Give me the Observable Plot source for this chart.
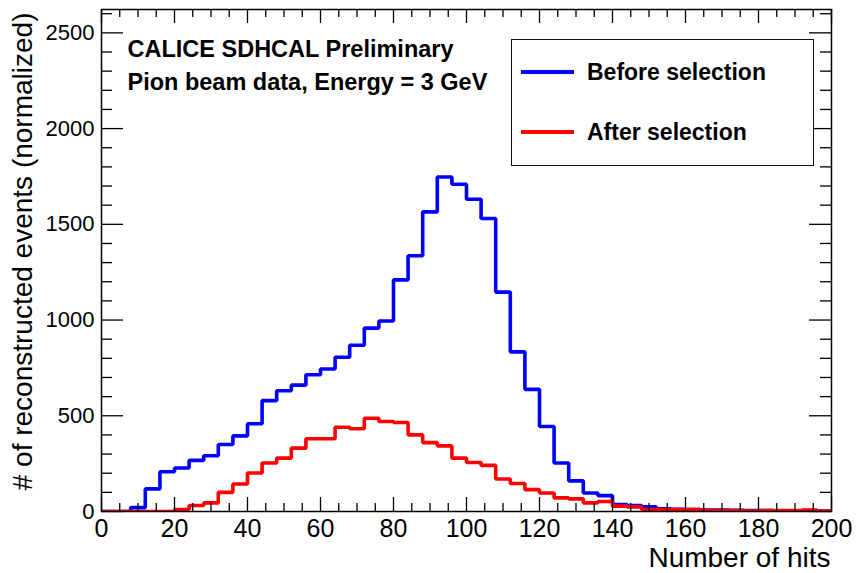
<!DOCTYPE html>
<html>
<head>
<meta charset="utf-8">
<script src="https://cdn.jsdelivr.net/npm/d3@7"></script>
<script src="https://cdn.jsdelivr.net/npm/@observablehq/plot@0.6"></script>
<style>
  html, body { margin: 0; padding: 0; background: #fff; }
  #wrap { position: relative; width: 858px; height: 573px; font-family: "Liberation Sans", Arial, Helvetica, sans-serif; }
  #legend { position: absolute; left: 511px; top: 39px; width: 303px; height: 127px; box-sizing: border-box; border: 1.5px solid #111; background: #fff; }
  .item { position: absolute; left: 0; width: 100%; height: 30px; }
  .swatch { position: absolute; left: 9px; width: 53px; height: 4px; }
  .lab { position: absolute; left: 75px; font-weight: bold; font-size: 23px; line-height: 23px; color: #000; white-space: nowrap; }
</style>
</head>
<body>
<div id="wrap"></div>
<script>
// Bin edges of the hit-count histogram (4 hits per bin, 0 to 200)
const binEdges = [0, 4, 8, 12, 16, 20, 24, 28, 32, 36, 40, 44, 48, 52, 56, 60, 64, 68, 72, 76,
  80, 84, 88, 92, 96, 100, 104, 108, 112, 116, 120, 124, 128, 132, 136, 140, 144, 148, 152, 156,
  160, 164, 168, 172, 176, 180, 184, 188, 192, 196, 200];

// Normalized event counts per bin
const beforeSelection = [0, 0, 20, 118, 208, 227, 267, 291, 350, 395,
  458, 579, 631, 660, 714, 744, 806, 868, 958, 995,
  1210, 1336, 1565, 1747, 1709, 1631, 1530, 1146, 834, 638,
  444, 253, 160, 97, 83, 36, 31, 24, 14, 12,
  10, 8, 7, 6, 5, 5, 4, 4, 5, 3];
const afterSelection = [0, 0, 0, 0, 0, 10, 31, 45, 100, 144,
  201, 253, 279, 331, 380, 380, 440, 432, 487, 470,
  465, 400, 360, 343, 279, 256, 241, 170, 146, 114,
  97, 71, 66, 45, 52, 28, 24, 10, 10, 10,
  10, 6, 5, 5, 2, 5, 5, 5, 8, 3];

const seriesNames = ["Before selection", "After selection"];
const seriesColors = ["#0000ff", "#ff0000"];

// Axis ticks
const xMajor = [0, 20, 40, 60, 80, 100, 120, 140, 160, 180, 200];
const xMinor = d3.range(0, 201, 5).filter(v => v % 20 !== 0);
const yMajor = [0, 500, 1000, 1500, 2000, 2500];
const yMinor = d3.range(0, 2601, 100).filter(v => v % 500 !== 0);

const texts = ["CALICE SDHCAL Preliminary", "Pion beam data, Energy = 3 GeV"];
const xTitle = "Number of hits";
const yTitle = "# of reconstructed events (normalized)";

// Step outline rows: one per bin edge, the last edge repeats the last bin value
function outline(values, name) {
  return binEdges.map((e, i) => ({hits: e, events: values[Math.min(i, values.length - 1)], name}));
}
const rows = [
  ...outline(beforeSelection, seriesNames[0]),
  ...outline(afterSelection, seriesNames[1])
];

const W = 858, H = 573;
const mL = 101, mR = 27, mT = 9, mB = 62;
const innerW = W - mL - mR, innerH = H - mT - mB;
const font = '"Liberation Sans", Arial, Helvetica, sans-serif';

const chart = Plot.plot({
  width: W,
  height: H,
  marginLeft: mL,
  marginRight: mR,
  marginTop: mT,
  marginBottom: mB,
  style: {fontFamily: font, color: "#000", background: "#fff", overflow: "visible"},
  x: {domain: [0, 200]},
  y: {domain: [0, 2622]},
  color: {domain: seriesNames, range: seriesColors},
  marks: [
    Plot.line(rows, {x: "hits", y: "events", z: "name", stroke: "name", curve: "step-after",
      strokeWidth: 3.6, strokeLinejoin: "miter", strokeLinecap: "butt", clip: true}),
    // ticks on all four sides
    Plot.ruleX(xMajor, {insetTop: innerH - 14, stroke: "#000", strokeWidth: 1.3}),
    Plot.ruleX(xMinor, {insetTop: innerH - 8, stroke: "#000", strokeWidth: 1.3}),
    Plot.ruleX(xMajor, {insetBottom: innerH - 14, stroke: "#000", strokeWidth: 1.3}),
    Plot.ruleX(xMinor, {insetBottom: innerH - 8, stroke: "#000", strokeWidth: 1.3}),
    Plot.ruleY(yMajor, {insetRight: innerW - 22, stroke: "#000", strokeWidth: 1.3}),
    Plot.ruleY(yMinor, {insetRight: innerW - 11, stroke: "#000", strokeWidth: 1.3}),
    Plot.ruleY(yMajor, {insetLeft: innerW - 22, stroke: "#000", strokeWidth: 1.3}),
    Plot.ruleY(yMinor, {insetLeft: innerW - 11, stroke: "#000", strokeWidth: 1.3}),
    Plot.frame({stroke: "#000", strokeWidth: 1.5}),
    Plot.axisX({ticks: xMajor, tickSize: 0, tickPadding: 8, fontSize: 25, label: null, tickFormat: d => String(d)}),
    Plot.axisY({ticks: yMajor, tickSize: 0, tickPadding: 7, fontSize: 22, label: null, tickFormat: d => String(d)}),
    Plot.text([xTitle], {text: d => d, frameAnchor: "bottom-right", textAnchor: "end", dx: -1, dy: 55, fontSize: 28}),
    Plot.text([yTitle], {text: d => d, frameAnchor: "top-left", textAnchor: "end", rotate: -90, dx: -89, dy: 3, fontSize: 28}),
    Plot.text([texts[0]], {text: d => d, frameAnchor: "top-left", textAnchor: "start", dx: 26, dy: 31, fontSize: 23.5, fontWeight: "bold"}),
    Plot.text([texts[1]], {text: d => d, frameAnchor: "top-left", textAnchor: "start", dx: 26, dy: 64, fontSize: 23.5, fontWeight: "bold"})
  ]
});

const wrap = document.getElementById("wrap");
wrap.appendChild(chart);

// Legend box drawn over the plot area
const legend = document.createElement("div");
legend.id = "legend";
const itemTops = [18, 78];
seriesNames.forEach((name, i) => {
  const item = document.createElement("div");
  item.className = "item";
  item.style.top = itemTops[i] + "px";
  const sw = document.createElement("div");
  sw.className = "swatch";
  sw.style.background = seriesColors[i];
  sw.style.top = "12px";
  const lab = document.createElement("span");
  lab.className = "lab";
  lab.style.top = "3px";
  lab.textContent = name;
  item.appendChild(sw);
  item.appendChild(lab);
  legend.appendChild(item);
});
wrap.appendChild(legend);
</script>
</body>
</html>
